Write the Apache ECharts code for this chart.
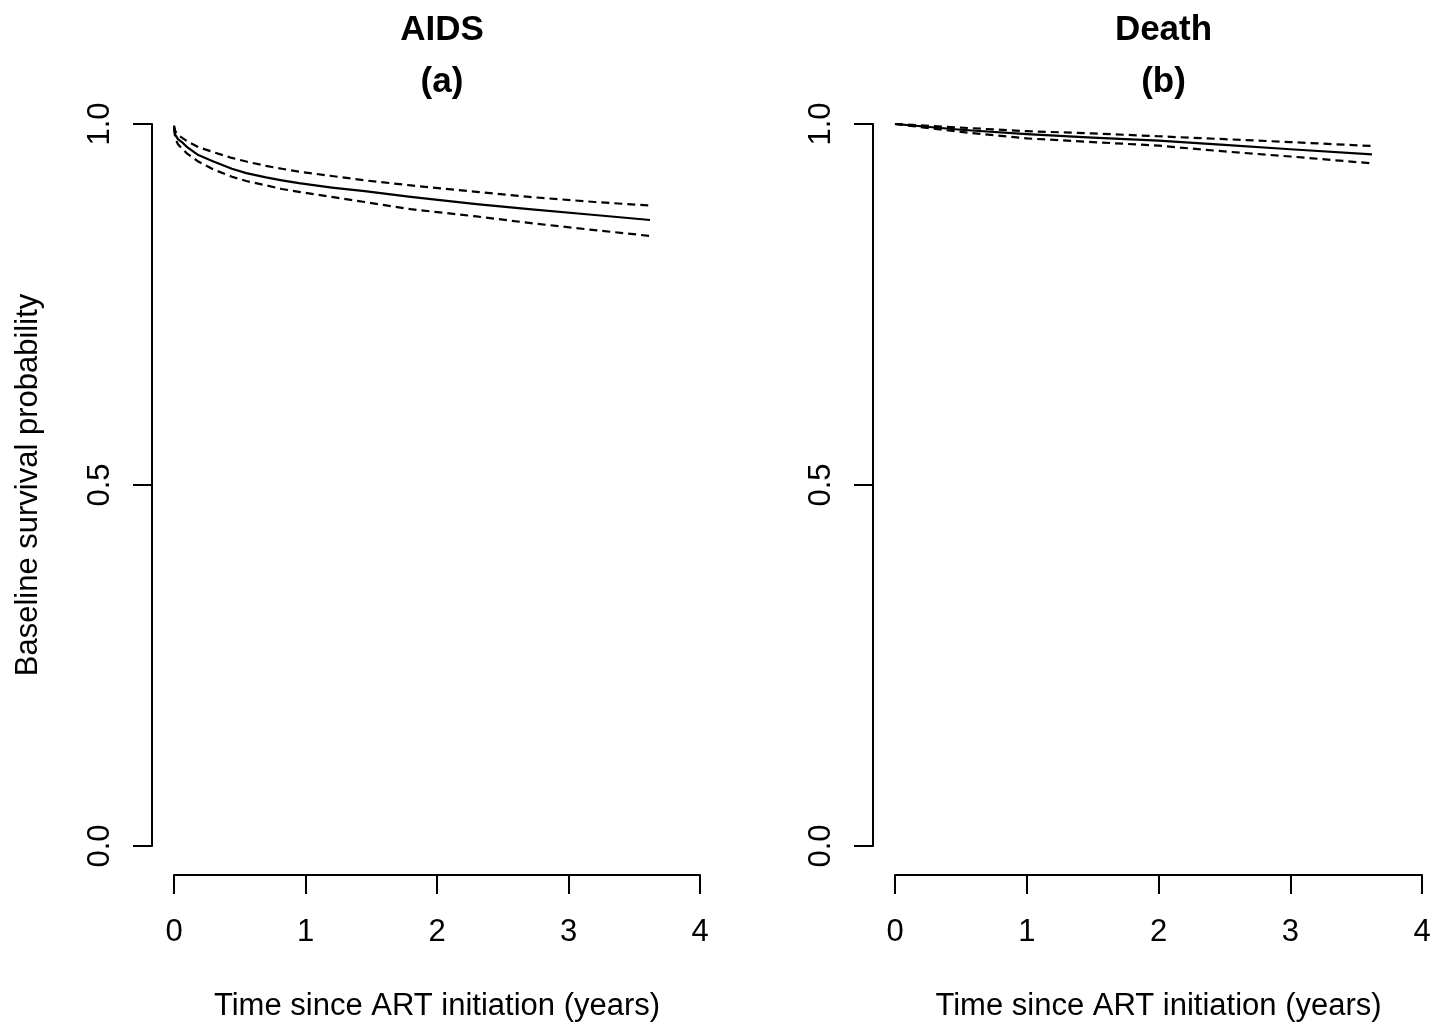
<!DOCTYPE html>
<html>
<head>
<meta charset="utf-8">
<script src="https://cdn.jsdelivr.net/npm/echarts@6/dist/echarts.min.js"></script>
<style>
html,body{margin:0;padding:0;background:#fff;}
#chart{width:1443px;height:1022px;}
</style>
</head>
<body>
<div id="chart"></div>
<script>
// ---- data ----
var panelTitles = ['AIDS', 'Death'];
var panelLetters = ['(a)', '(b)'];
var xTicks = [0, 1, 2, 3, 4];
var yTicks = [0, 0.5, 1];

var timesA = [0, 0.01, 0.03, 0.06, 0.1, 0.185, 0.3, 0.44, 0.55, 0.7, 0.82, 0.95, 1.2, 1.45, 1.8, 2.3, 2.7, 3.2, 3.62];
var aidsEst = [0.996, 0.985, 0.979, 0.975, 0.968, 0.957, 0.948, 0.938, 0.932, 0.926, 0.922, 0.918, 0.912, 0.907, 0.899, 0.889, 0.882, 0.874, 0.867];
var aidsUpper = [0.998, 0.990, 0.985, 0.981, 0.976, 0.968, 0.961, 0.953, 0.948, 0.942, 0.938, 0.934, 0.928, 0.922, 0.915, 0.906, 0.899, 0.892, 0.887];
var aidsLower = [0.994, 0.980, 0.972, 0.966, 0.959, 0.948, 0.937, 0.927, 0.921, 0.915, 0.910, 0.906, 0.899, 0.892, 0.882, 0.872, 0.863, 0.853, 0.845];

var timesB = [0, 0.5, 1, 1.5, 2, 2.5, 3, 3.62];
var deathEst = [1.0, 0.992, 0.986, 0.981, 0.977, 0.971, 0.965, 0.958];
var deathUpper = [1.0, 0.995, 0.990, 0.987, 0.983, 0.979, 0.975, 0.9695];
var deathLower = [1.0, 0.989, 0.980, 0.975, 0.970, 0.962, 0.955, 0.9455];

function pairs(xs, ys) { return xs.map(function (x, i) { return [x, ys[i]]; }); }

var FONT = 'Liberation Sans, Arial, Helvetica, sans-serif';
var grids = [
  { left: 174, width: 526, top: 124, height: 722, containLabel: false, outerBoundsMode: 'none' },
  { left: 895, width: 527, top: 124, height: 722, containLabel: false, outerBoundsMode: 'none' }
];

function xAxis(i) {
  return {
    gridIndex: i, type: 'value', min: xTicks[0], max: xTicks[xTicks.length - 1], interval: 1,
    offset: 29,
    axisLine: { show: true, onZero: false, lineStyle: { color: '#000', width: 2 } },
    axisTick: { show: true, length: 19, lineStyle: { color: '#000', width: 2 } },
    axisLabel: { show: true, margin: 42, color: '#000', fontSize: 31, fontFamily: FONT },
    splitLine: { show: false },
    name: 'Time since ART initiation (years)', nameLocation: 'middle', nameGap: 116,
    nameTextStyle: { color: '#000', fontSize: 31, fontFamily: FONT }
  };
}
function yAxis(i) {
  return {
    gridIndex: i, type: 'value', min: yTicks[0], max: yTicks[yTicks.length - 1], interval: 0.5,
    offset: 22,
    axisLine: { show: true, onZero: false, lineStyle: { color: '#000', width: 2 } },
    axisTick: { show: true, length: 19, lineStyle: { color: '#000', width: 2 } },
    axisLabel: { show: true, rotate: 90, margin: 36, color: '#000', fontSize: 31, fontFamily: FONT,
      formatter: function (v) { return v.toFixed(1); } },
    splitLine: { show: false },
    name: i === 0 ? 'Baseline survival probability' : '', nameLocation: 'middle', nameGap: 108,
    nameTextStyle: { color: '#000', fontSize: 31, fontFamily: FONT }
  };
}
function line(i, xs, ys, dashed) {
  return {
    type: 'line', xAxisIndex: i, yAxisIndex: i, data: pairs(xs, ys),
    showSymbol: false, symbol: 'none', smooth: false, silent: true,
    lineStyle: { color: '#000', width: 2.2, type: dashed ? [8, 5] : 'solid', join: 'round' }
  };
}

var titles = [];
[0, 1].forEach(function (i) {
  var cx = grids[i].left + grids[i].width / 2;
  titles.push({ text: panelTitles[i], left: cx, top: 8, textAlign: 'center',
    textStyle: { color: '#000', fontSize: 35, fontWeight: 'bold', fontFamily: FONT } });
  titles.push({ text: panelLetters[i], left: cx, top: 60, textAlign: 'center',
    textStyle: { color: '#000', fontSize: 35, fontWeight: 'bold', fontFamily: FONT } });
});

var chart = echarts.init(document.getElementById('chart'), null, { renderer: 'canvas' });
chart.setOption({
  backgroundColor: '#fff',
  animation: false,
  title: titles,
  grid: grids,
  xAxis: [xAxis(0), xAxis(1)],
  yAxis: [yAxis(0), yAxis(1)],
  series: [
    line(0, timesA, aidsEst, false),
    line(0, timesA, aidsUpper, true),
    line(0, timesA, aidsLower, true),
    line(1, timesB, deathEst, false),
    line(1, timesB, deathUpper, true),
    line(1, timesB, deathLower, true)
  ]
});
</script>
</body>
</html>
